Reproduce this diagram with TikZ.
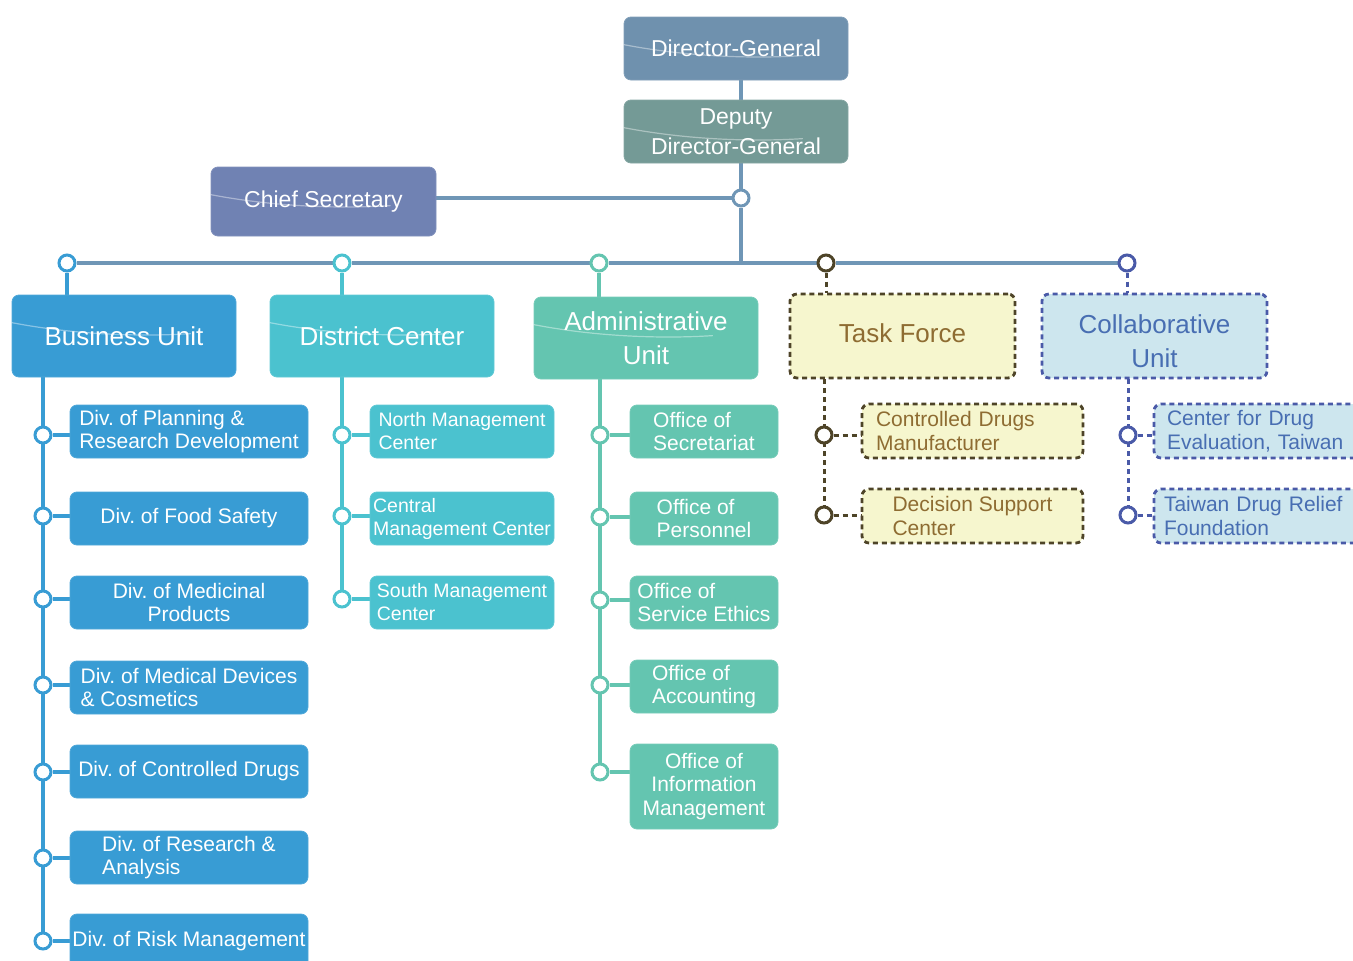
\documentclass[tikz,border=0pt]{standalone}
\usepackage{fontspec}
\setmainfont{Liberation Sans}
\usetikzlibrary{backgrounds}
\frenchspacing
\definecolor{cDG}{RGB}{111,145,174}
\definecolor{cDDG}{RGB}{116,154,150}
\definecolor{cCS}{RGB}{112,130,179}
\definecolor{cBus}{RGB}{111,150,182}
\definecolor{cBU}{RGB}{56,156,212}
\definecolor{cDC}{RGB}{75,194,207}
\definecolor{cAU}{RGB}{100,197,176}
\definecolor{cTFfill}{RGB}{246,246,206}
\definecolor{cTFline}{RGB}{78,68,40}
\definecolor{cTFtext}{RGB}{142,108,50}
\definecolor{cCUfill}{RGB}{205,230,238}
\definecolor{cCUline}{RGB}{74,90,168}
\definecolor{cCUtext}{RGB}{72,110,178}
\newcommand\bigfont{\fontsize{26}{34}\selectfont}
\newcommand\midfont{\fontsize{23}{30}\selectfont}
\newcommand\smallfont{\fontsize{21}{23.5}\selectfont}
\newcommand\dcfont{\fontsize{19.5}{23}\selectfont}
\newcommand\myswoosh[2]{\draw[swooshline] ([shift={(0,28)}]#1.north west) .. controls ([shift={(0.3*#2,41)}]#1.north west) and ([shift={(0.6*#2,42)}]#1.north west) .. ([shift={(0.8*#2,39)}]#1.north west);}
\tikzset{
  solidbox/.style={rounded corners=7pt, text=white, inner sep=0pt, draw=#1!88!white, line width=0.8pt, fill=#1},
  topbox/.style={solidbox=#1, minimum width=224pt, minimum height=63pt, font=\midfont, align=center},
  unitbox/.style={solidbox=#1, minimum width=224pt, minimum height=82pt, font=\bigfont, align=center},
  kidbox/.style={solidbox=#1, minimum height=53pt, font=\smallfont},
  dashbox/.style n args={3}{rounded corners=7pt, inner sep=0pt, draw=#1, fill=#2, text=#3, line width=2.8pt, dash pattern=on 5pt off 3.8pt},
  swooshline/.style={draw=white, opacity=0.4, line width=1.2pt},
  dotc/.style={circle, draw=#1, fill=white, line width=3pt, minimum size=16pt, inner sep=0pt},
  ln/.style={draw=#1, line width=3.2pt},
  dln/.style={draw=#1, line width=3pt, dash pattern=on 5pt off 4pt},
}
\begin{document}
\begin{tikzpicture}[x=1pt,y=-1pt]
\useasboundingbox (0,0) rectangle (1353,961);
% top
\node[topbox=cDG] (dg) at (736,48.5) {Director-General};
\node[topbox=cDDG] (ddg) at (736,131.5) {Deputy\\Director-General};
\node[topbox=cCS, minimum width=225pt, minimum height=69pt] (cs) at (323.5,201.5) {Chief Secretary};
\node[dotc=cBus] (cd) at (741,198) {};
\coordinate (jn) at (741,263);
% bus circles
\node[dotc=cBU] (c1) at (67,263) {};
\node[dotc=cDC] (c2) at (342,263) {};
\node[dotc=cAU] (c3) at (599,263) {};
\node[dotc=cTFline] (c4) at (826,263) {};
\node[dotc=cCUline] (c5) at (1127,263) {};
% units
\node[unitbox=cBU] (bu) at (124,336) {Business Unit};
\node[unitbox=cDC] (dc) at (382,336) {District Center};
\node[unitbox=cAU] (au) at (646,338) {Administrative\\Unit};
\node[dashbox={cTFline}{cTFfill}{cTFtext}, minimum width=225pt, minimum height=84pt] (tf) at (902.5,336) {};
\node[text=cTFtext, font=\bigfont, inner sep=0pt] (tft) at (902.5,333) {Task Force};
\node[dashbox={cCUline}{cCUfill}{cCUtext}, minimum width=225pt, minimum height=84pt] (cu) at (1154.5,336) {};
\node[text=cCUtext, font=\bigfont, align=center, inner sep=0pt] (cut) at (1154.5,341) {Collaborative\\Unit};
\myswoosh{dg}{224}
\myswoosh{ddg}{224}
\myswoosh{cs}{225}
\myswoosh{bu}{224}
\myswoosh{dc}{224}
\myswoosh{au}{224}
% business children
\node[kidbox=cBU, minimum width=238pt, align=left] (bb1) at (189,431.5) {Div. of Planning \&\\Research Development};
\node[kidbox=cBU, minimum width=238pt] (bb2) at (189,518.5) {Div. of Food Safety};
\node[kidbox=cBU, minimum width=238pt, align=center] (bb3) at (189,602.5) {Div. of Medicinal\\Products};
\node[kidbox=cBU, minimum width=238pt, align=left] (bb4) at (189,687.5) {Div. of Medical Devices\\\& Cosmetics};
\node[kidbox=cBU, minimum width=238pt] (bb5) at (189,771.5) {Div. of Controlled Drugs};
\node[kidbox=cBU, minimum width=238pt, align=left] (bb6) at (189,857.5) {Div. of Research \&\\Analysis};
\node[kidbox=cBU, minimum width=238pt, minimum height=54pt] (bb7) at (189,941) {Div. of Risk Management};
\foreach \i/\y in {1/435,2/516,3/599,4/685,5/772,6/858,7/941} \node[dotc=cBU] (b\i) at (43,\y) {};
% district children
\node[kidbox=cDC, minimum width=184pt, font=\dcfont, align=left] (dd1) at (462,431.5) {North Management\\Center};
\node[kidbox=cDC, minimum width=184pt, font=\dcfont, align=left] (dd2) at (462,518.5) {Central\\Management Center};
\node[kidbox=cDC, minimum width=184pt, font=\dcfont, align=left] (dd3) at (462,602.5) {South Management\\Center};
\foreach \i/\y in {1/435,2/516,3/599} \node[dotc=cDC] (d\i) at (342,\y) {};
% admin children
\node[kidbox=cAU, minimum width=148pt, align=left] (a1) at (704,431.5) {Office of\\Secretariat};
\node[kidbox=cAU, minimum width=148pt, align=left] (a2) at (704,518.5) {Office of\\Personnel};
\node[kidbox=cAU, minimum width=148pt, align=left] (a3) at (704,602.5) {Office of\\Service Ethics};
\node[kidbox=cAU, minimum width=148pt, align=left] (a4) at (704,686.5) {Office of\\Accounting};
\node[kidbox=cAU, minimum width=148pt, minimum height=85pt, align=center] (a5) at (704,786.5) {Office of\\Information\\Management};
\foreach \i/\y in {1/435,2/517,3/600,4/685,5/772} \node[dotc=cAU] (e\i) at (600,\y) {};
% task force children
\node[dashbox={cTFline}{cTFfill}{cTFtext}, minimum width=221pt, minimum height=54pt, font=\smallfont, align=left, text width=193pt] (t1) at (972.5,431) {Controlled Drugs\\Manufacturer};
\node[dashbox={cTFline}{cTFfill}{cTFtext}, minimum width=221pt, minimum height=54pt, font=\smallfont, align=left] (t2) at (972.5,516) {Decision Support\\Center};
\foreach \i/\y in {1/435,2/515} \node[dotc=cTFline] (f\i) at (824,\y) {};
% collab children
\node[dashbox={cCUline}{cCUfill}{cCUtext}, minimum width=221pt, minimum height=54pt, font=\smallfont, align=left, text width=195pt] (k1) at (1264.5,431) {Center for Drug\\Evaluation, Taiwan};
\node[dashbox={cCUline}{cCUfill}{cCUtext}, minimum width=221pt, minimum height=54pt, font=\smallfont, align=left, text width=201pt] (k2) at (1264.5,516) {Taiwan Drug Relief\\Foundation};
\foreach \i/\y in {1/435,2/515} \node[dotc=cCUline] (g\i) at (1128,\y) {};
% connectors
\begin{scope}[on background layer]
\draw[ln=cBus] (cd |- dg.south) -- (cd |- ddg.north);
\draw[ln=cBus] (cd |- ddg.south) -- (cd);
\draw[ln=cBus] (cs.east |- cd) -- (cd);
\draw[ln=cBus] (cd) -- (jn);
\draw[ln=cBus] (c1) -- (c2) -- (c3) -- (c4) -- (c5);
\draw[ln=cBU] (c1) -- (c1 |- bu.north);
\draw[ln=cDC] (c2) -- (c2 |- dc.north);
\draw[ln=cAU] (c3) -- (c3 |- au.north);
\draw[dln=cTFline] (c4) -- (c4 |- tf.north);
\draw[dln=cCUline] (c5) -- (c5 |- cu.north);
\draw[ln=cBU] (b1 |- bu.south) -- (b7);
\foreach \i in {1,...,7} \draw[ln=cBU] (b\i) -- (b\i -| bb\i.west);
\draw[ln=cDC] (d1 |- dc.south) -- (d3);
\foreach \i in {1,2,3} \draw[ln=cDC] (d\i) -- (d\i -| dd\i.west);
\draw[ln=cAU] (e1 |- au.south) -- (e5);
\foreach \i in {1,...,5} \draw[ln=cAU] (e\i) -- (e\i -| a\i.west);
\draw[dln=cTFline] (f1 |- tf.south) -- (f2);
\foreach \i in {1,2} \draw[dln=cTFline] (f\i) -- (f\i -| t\i.west);
\draw[dln=cCUline] (g1 |- cu.south) -- (g2);
\foreach \i in {1,2} \draw[dln=cCUline] (g\i) -- (g\i -| k\i.west);
\end{scope}
\end{tikzpicture}
\end{document}
